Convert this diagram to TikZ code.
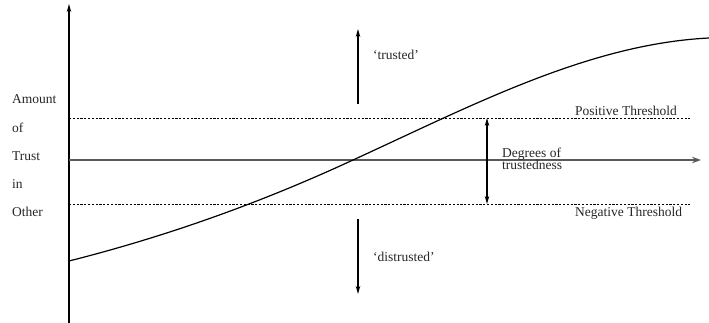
\documentclass[tikz,border=0pt]{standalone}
\usepackage{fontspec}
\setmainfont{Liberation Serif}
\usetikzlibrary{arrows.meta}
\begin{document}
\begin{tikzpicture}[x=1pt,y=-1pt,
  lbl/.style={font=\fontsize{13.5}{15}\selectfont, inner sep=0pt, anchor=west, text=black!85},
  axis/.style={line width=1.6pt, -{Stealth[length=8pt,width=4.5pt]}},
  haxis/.style={line width=2.6pt, black!65, -{Stealth[length=9pt,width=6.5pt]}},
  thr/.style={dash pattern=on 2.2pt off 1.6pt, line width=0.9pt},
  arr/.style={line width=1.4pt, -{Stealth[length=8pt,width=4.5pt]}},
  darr/.style={line width=1.4pt, {Stealth[length=8pt,width=4.5pt]}-{Stealth[length=8pt,width=4.5pt]}}]
\useasboundingbox (0,0) rectangle (709,323);
% axes
\coordinate (yb) at (69,323);
\coordinate (yt) at (69,4);
\coordinate (xl) at (69,160);
\coordinate (xr) at (701,160);
\draw[axis] (yb) -- (yt);
\draw[haxis] (xl) -- (xr);
% thresholds
\coordinate (pl) at (69,118);
\coordinate (pr) at (690,118);
\coordinate (nl) at (69,204);
\coordinate (nr) at (690,204);
\draw[thr] (pl) -- (pr);
\draw[thr] (nl) -- (nr);
% curve
\coordinate (c0) at (69,261);
\coordinate (c1) at (353,160);
\coordinate (c2) at (709,38);
\draw[line width=1.2pt] (c0) .. controls (164,237) and (258,204) .. (c1)
  .. controls (473,105) and (589,44) .. (c2);
% trusted / distrusted arrows
\coordinate (tu0) at (358,104);
\coordinate (tu1) at (358,29);
\coordinate (td0) at (358,219);
\coordinate (td1) at (358,294);
\draw[arr] (tu0) -- (tu1);
\draw[arr] (td0) -- (td1);
\node[lbl] (trusted) at (373,55) {`trusted'};
\node[lbl] (distrusted) at (373,257) {`distrusted'};
% degrees
\coordinate (d0) at (487,118);
\coordinate (d1) at (487,204);
\draw[darr] (d0) -- (d1);
\node[lbl, align=left, anchor=north west] (deg) at (502,148) {Degrees of\\[-3pt]trustedness};
% threshold labels
\node[lbl] (pos) at (575,111) {Positive Threshold};
\node[lbl] (neg) at (575,213) {Negative Threshold};
% left labels
\node[lbl] (l1) at (12,99) {Amount};
\node[lbl] (l2) at (12,128) {of};
\node[lbl] (l3) at (12,156) {Trust};
\node[lbl] (l4) at (12,184) {in};
\node[lbl] (l5) at (12,212) {Other};
\end{tikzpicture}
\end{document}
